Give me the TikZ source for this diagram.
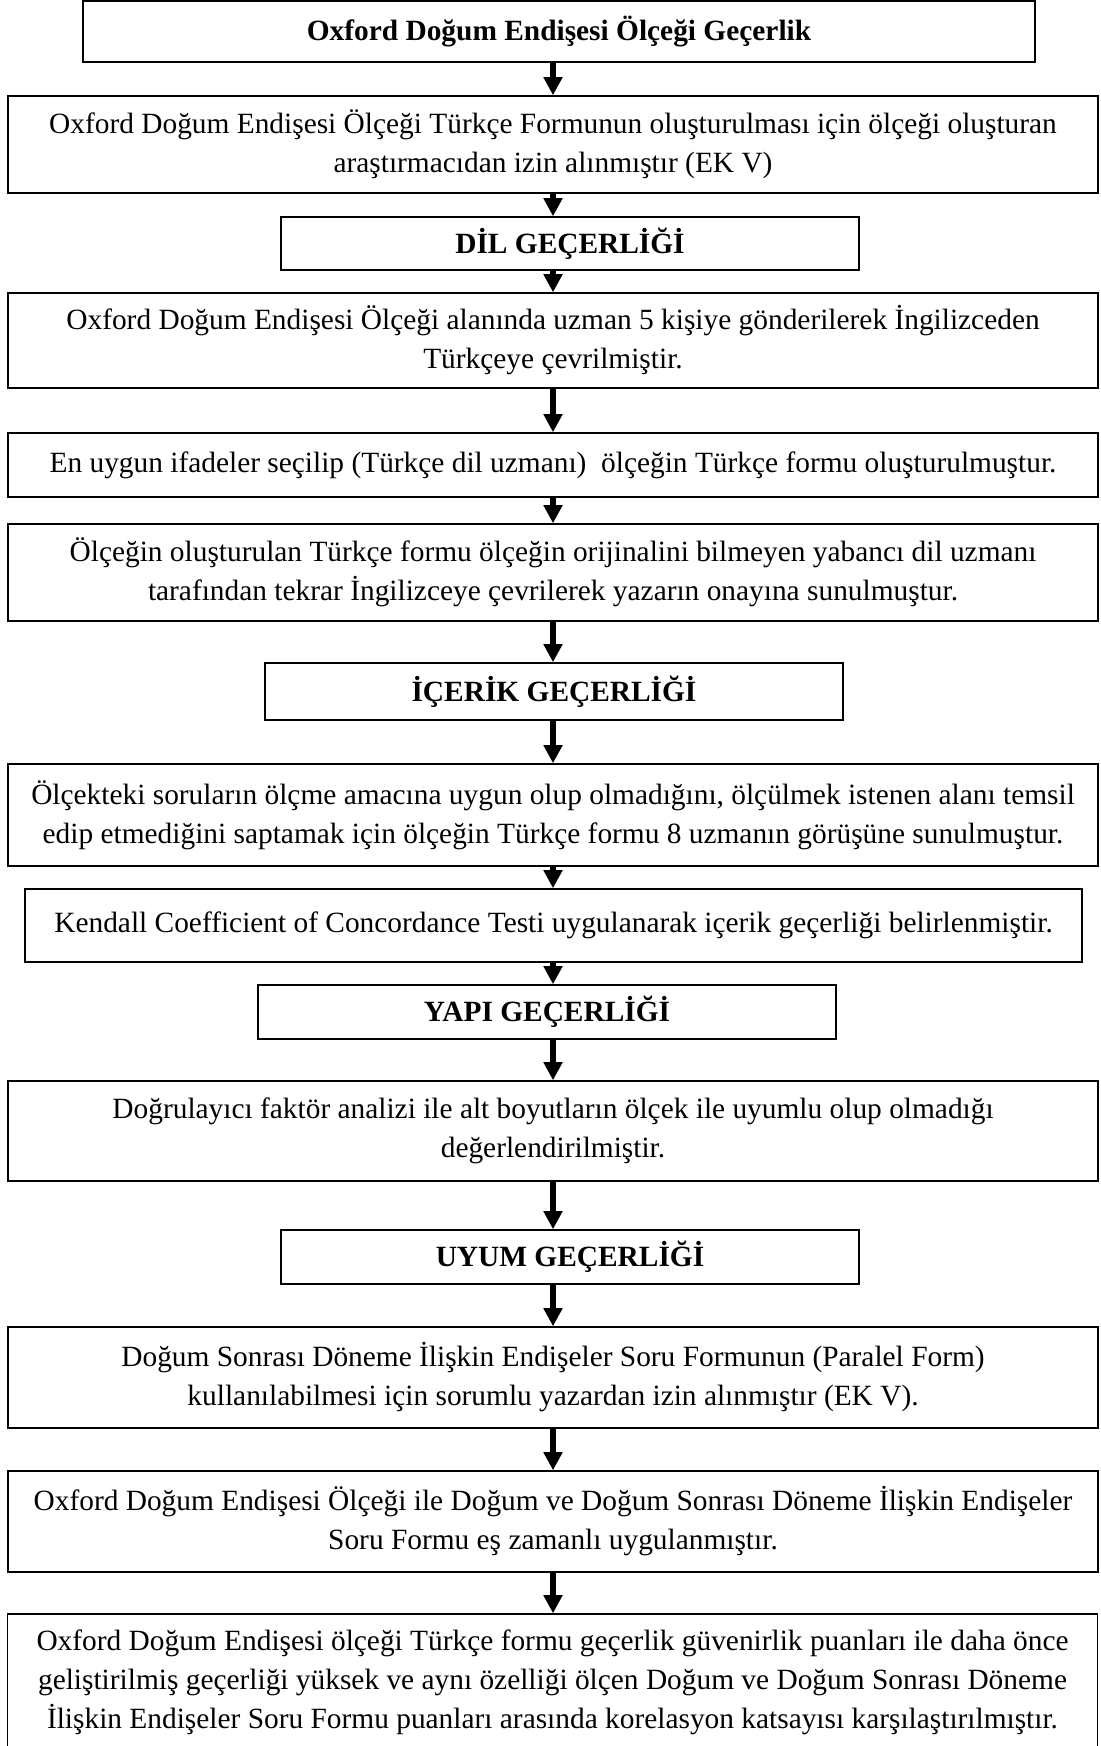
\documentclass[tikz,border=0pt]{standalone}
\usepackage{fontspec}
\setmainfont{Liberation Serif}
\usetikzlibrary{arrows.meta}

\begin{document}
\begin{tikzpicture}[x=0.531pt, y=-0.531pt,
    box/.style={draw, line width=0.8pt, inner sep=0pt, align=center, font=\fontsize{15.6pt}{20.7pt}\selectfont, minimum width=578.8pt},
    head/.style={box, font=\fontsize{15.6pt}{20.7pt}\selectfont\bfseries, minimum width=306.9pt, minimum height=29pt},
    flow/.style={line width=2.8pt, -{Triangle[width=9.6pt, length=9.6pt]}}]
    \useasboundingbox (0,0) rectangle (1101,1746);
    \coordinate (axis) at (553,0);
    \node[box, font=\fontsize{15.6pt}{20.7pt}\selectfont\bfseries, minimum width=505.5pt, minimum height=32.4pt] (title) at (559,31.5) {Oxford Doğum Endişesi Ölçeği Geçerlik};
    \node[box, minimum height=51.5pt] (izin) at (553,144.5) {Oxford Doğum Endişesi Ölçeği Türkçe Formunun oluşturulması için ölçeği oluşturan\\araştırmacıdan izin alınmıştır (EK V)};
    \node[head, minimum height=28.1pt] (dil) at (570,243.5) {DİL GEÇERLİĞİ};
    \node[box, minimum height=50.4pt] (ceviri) at (553,340.5) {Oxford Doğum Endişesi Ölçeği alanında uzman 5 kişiye gönderilerek İngilizceden\\Türkçeye çevrilmiştir.};
    \node[box, minimum height=34pt] (ifade) at (553,465) {En uygun ifadeler seçilip (Türkçe dil uzmanı)\ \ ölçeğin Türkçe formu oluşturulmuştur.};
    \node[box, minimum height=51.5pt] (geri) at (553,572.5) {Ölçeğin oluşturulan Türkçe formu ölçeğin orijinalini bilmeyen yabancı dil uzmanı\\tarafından tekrar İngilizceye çevrilerek yazarın onayına sunulmuştur.};
    \node[head, minimum height=30.3pt] (icerik) at (554,691.5) {İÇERİK GEÇERLİĞİ};
    \node[box, minimum height=54.2pt] (uzman) at (553,815) {Ölçekteki soruların ölçme amacına uygun olup olmadığını, ölçülmek istenen alanı temsil\\edip etmediğini saptamak için ölçeğin Türkçe formu 8 uzmanın görüşüne sunulmuştur.};
    \node[box, minimum width=561.3pt, minimum height=38.8pt] (kendall) at (553.5,925.5) {Kendall Coefficient of Concordance Testi uygulanarak içerik geçerliği belirlenmiştir.};
    \node[head, minimum height=28.7pt] (yapi) at (547,1012) {YAPI GEÇERLİĞİ};
    \node[box, minimum height=53.1pt] (faktor) at (553,1131) {Doğrulayıcı faktör analizi ile alt boyutların ölçek ile uyumlu olup olmadığı\\değerlendirilmiştir.};
    \node[head, minimum height=28.7pt] (uyum) at (570,1257) {UYUM GEÇERLİĞİ};
    \node[box, minimum height=53.6pt] (paralel) at (553,1377.5) {Doğum Sonrası Döneme İlişkin Endişeler Soru Formunun (Paralel Form)\\kullanılabilmesi için sorumlu yazardan izin alınmıştır (EK V).};
    \node[box, minimum height=53.6pt] (eszaman) at (553,1521.5) {Oxford Doğum Endişesi Ölçeği ile Doğum ve Doğum Sonrası Döneme İlişkin Endişeler\\Soru Formu eş zamanlı uygulanmıştır.};
    \node[box, minimum height=72.2pt] (korelasyon) at (552.5,1682) {Oxford Doğum Endişesi ölçeği Türkçe formu geçerlik güvenirlik puanları ile daha önce\\geliştirilmiş geçerliği yüksek ve aynı özelliği ölçen Doğum ve Doğum Sonrası Döneme\\İlişkin Endişeler Soru Formu puanları arasında korelasyon katsayısı karşılaştırılmıştır.};
    \draw[flow] (title.south -| axis) -- (izin.north -| axis);
    \draw[flow] (izin.south -| axis) -- (dil.north -| axis);
    \draw[flow] (dil.south -| axis) -- (ceviri.north -| axis);
    \draw[flow] (ceviri.south -| axis) -- (ifade.north -| axis);
    \draw[flow] (ifade.south -| axis) -- (geri.north -| axis);
    \draw[flow] (geri.south -| axis) -- (icerik.north -| axis);
    \draw[flow] (icerik.south -| axis) -- (uzman.north -| axis);
    \draw[flow] (uzman.south -| axis) -- (kendall.north -| axis);
    \draw[flow] (kendall.south -| axis) -- (yapi.north -| axis);
    \draw[flow] (yapi.south -| axis) -- (faktor.north -| axis);
    \draw[flow] (faktor.south -| axis) -- (uyum.north -| axis);
    \draw[flow] (uyum.south -| axis) -- (paralel.north -| axis);
    \draw[flow] (paralel.south -| axis) -- (eszaman.north -| axis);
    \draw[flow] (eszaman.south -| axis) -- (korelasyon.north -| axis);
\end{tikzpicture}
\end{document}
